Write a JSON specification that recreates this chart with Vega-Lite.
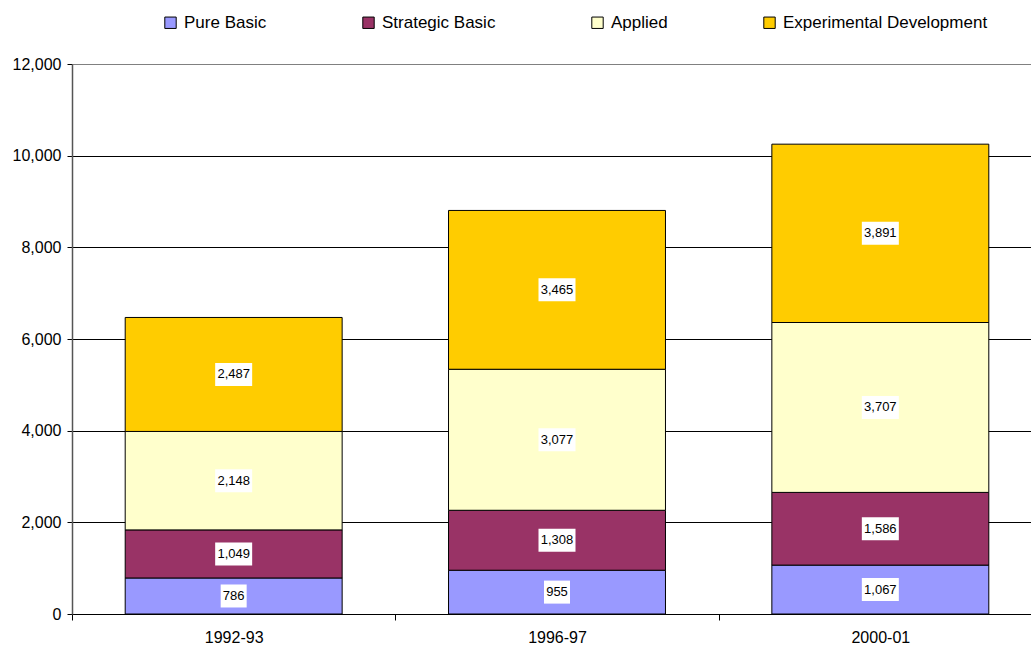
{
  "$schema": "https://vega.github.io/schema/vega-lite/v6.json",
  "autosize": "none",
  "width": 959,
  "height": 550,
  "padding": {"left": 72, "top": 64, "right": 0, "bottom": 32},
  "background": "white",
  "config": {
    "view": {"stroke": null},
    "font": "Liberation Sans",
    "text": {"font": "Liberation Sans"}
  },
  "data": {
    "values": [
      {"year": "1992-93", "type": "Pure Basic", "value": 786},
      {"year": "1992-93", "type": "Strategic Basic", "value": 1049},
      {"year": "1992-93", "type": "Applied", "value": 2148},
      {"year": "1992-93", "type": "Experimental Development", "value": 2487},
      {"year": "1996-97", "type": "Pure Basic", "value": 955},
      {"year": "1996-97", "type": "Strategic Basic", "value": 1308},
      {"year": "1996-97", "type": "Applied", "value": 3077},
      {"year": "1996-97", "type": "Experimental Development", "value": 3465},
      {"year": "2000-01", "type": "Pure Basic", "value": 1067},
      {"year": "2000-01", "type": "Strategic Basic", "value": 1586},
      {"year": "2000-01", "type": "Applied", "value": 3707},
      {"year": "2000-01", "type": "Experimental Development", "value": 3891}
    ]
  },
  "transform": [
    {"calculate": "indexof(['Pure Basic','Strategic Basic','Applied','Experimental Development'], datum.type)", "as": "rank"},
    {"stack": "value", "groupby": ["year"], "sort": [{"field": "rank", "order": "ascending"}], "as": ["v0", "v1"]},
    {"calculate": "(datum.v0 + datum.v1) / 2", "as": "mid"}
  ],
  "encoding": {
    "x": {
      "field": "year",
      "type": "nominal",
      "scale": {"range": [0, 970], "paddingInner": 0, "paddingOuter": 0},
      "axis": {
        "title": null,
        "labelAngle": 0,
        "labelFontSize": 16,
        "labelColor": "#000",
        "labelPadding": 9,
        "tickBand": "extent",
        "tickSize": 6,
        "tickColor": "#000",
        "domainColor": "#000",
        "grid": false
      }
    }
  },
  "layer": [
    {
      "mark": {"type": "bar", "stroke": "#000", "strokeWidth": 1, "width": {"band": 0.671}},
      "encoding": {
        "y": {
          "field": "v1",
          "type": "quantitative",
          "scale": {"domain": [0, 12000], "nice": false},
          "axis": {
            "title": null,
            "values": [0, 2000, 4000, 6000, 8000, 10000, 12000],
            "format": ",.0f",
            "labelFontSize": 16,
            "labelColor": "#000",
            "labelPadding": 6,
            "tickSize": 5,
            "tickColor": "#000",
            "domainColor": "#555",
            "domainWidth": 1.5,
            "grid": true,
            "gridColor": {"condition": {"test": "datum.value === 12000", "value": "#808080"}, "value": "#000"},
            "gridOpacity": 1
          }
        },
        "y2": {"field": "v0"},
        "color": {
          "field": "type",
          "type": "nominal",
          "scale": {
            "domain": ["Pure Basic", "Strategic Basic", "Applied", "Experimental Development"],
            "range": ["#9999FF", "#993366", "#FFFFCC", "#FFCC00"]
          },
          "legend": {
            "title": null,
            "orient": "none",
            "direction": "horizontal",
            "legendX": 90,
            "legendY": -50,
            "symbolType": "square",
            "symbolSize": 130,
            "symbolStrokeColor": "#000",
            "symbolStrokeWidth": 1,
            "symbolOpacity": 1,
            "labelFontSize": 17,
            "labelColor": "#000",
            "labelOffset": 5,
            "columnPadding": 93,
            "labelLimit": 400
          }
        }
      }
    },
    {
      "mark": {"type": "point", "filled": true, "color": "white", "opacity": 1, "size": 400},
      "encoding": {
        "y": {"field": "mid", "type": "quantitative"},
        "shape": {
          "condition": {"test": "datum.value < 1000", "value": "M-1.3,-1.15L1.3,-1.15L1.3,1.15L-1.3,1.15Z"},
          "value": "M-1.85,-1.15L1.85,-1.15L1.85,1.15L-1.85,1.15Z"
        }
      }
    },
    {
      "mark": {"type": "text", "fontSize": 13, "color": "#000", "baseline": "middle", "align": "center"},
      "encoding": {
        "y": {"field": "mid", "type": "quantitative"},
        "text": {"field": "value", "type": "quantitative", "format": ","}
      }
    }
  ]
}
